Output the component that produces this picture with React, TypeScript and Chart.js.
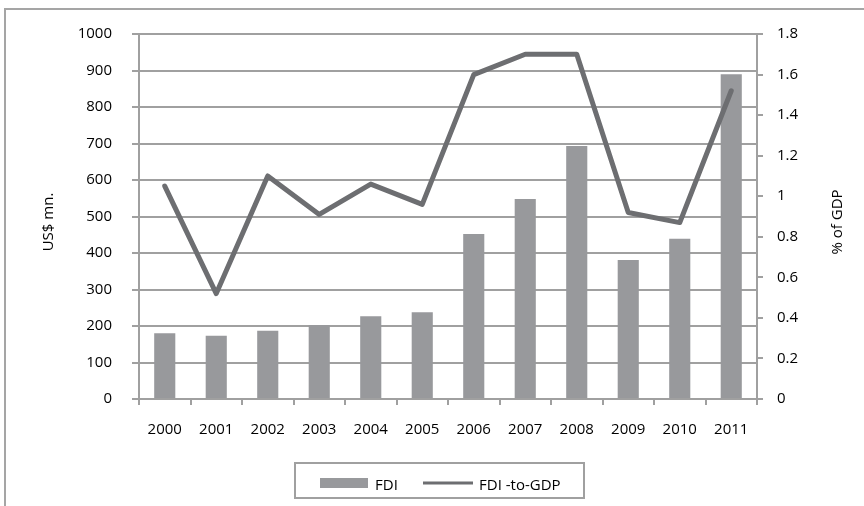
import React, { useEffect, useRef } from 'react';
import { Chart, registerables } from 'chart.js';

Chart.register(...registerables);

// ---- data ----
const years = ['2000', '2001', '2002', '2003', '2004', '2005', '2006', '2007', '2008', '2009', '2010', '2011'];
const fdiValues = [180, 173, 187, 203, 227, 238, 452, 548, 693, 381, 439, 890];
const fdiToGdpValues = [1.05, 0.52, 1.1, 0.91, 1.06, 0.96, 1.6, 1.7, 1.7, 0.92, 0.87, 1.52];
const seriesNames = ['FDI', 'FDI -to-GDP'];
const leftAxisTitle = 'US$ mn.';
const rightAxisTitle = '% of GDP';
const leftTicks = { min: 0, max: 1000, step: 100 };
const rightTicks = { min: 0, max: 1.8, step: 0.2 };

// ---- styles ----
const FONT = "'Open Sans', 'Noto Sans', sans-serif";
const TEXT = '#000000';
const GRID = '#a0a0a0';
const FRAME = '#a5a5a5';
const BAR = '#98999c';
const LINE = '#6d6e71';

const decorPlugin = {
  id: 'decor',
  beforeDraw(chart: any) {
    const ctx = chart.ctx;
    ctx.save();
    ctx.fillStyle = '#ffffff';
    ctx.fillRect(0, 0, chart.width, chart.height);
    ctx.strokeStyle = FRAME;
    ctx.lineWidth = 2;
    ctx.beginPath();
    ctx.moveTo(5, chart.height);
    ctx.lineTo(5, 9);
    ctx.lineTo(chart.width, 9);
    ctx.stroke();
    ctx.restore();
  },
  afterDraw(chart: any) {
    const ctx = chart.ctx;
    ctx.save();
    ctx.font = `15px ${FONT}`;
    ctx.fillStyle = TEXT;
    ctx.textAlign = 'center';
    ctx.textBaseline = 'alphabetic';
    // axis titles (both read bottom-to-top)
    const drawRot = (text: string, x: number, y: number) => {
      ctx.save();
      ctx.translate(x, y);
      ctx.rotate(-Math.PI / 2);
      ctx.fillText(text, 0, 0);
      ctx.restore();
    };
    drawRot(leftAxisTitle, 53, 222);
    drawRot(rightAxisTitle, 842, 222);

    // legend
    ctx.strokeStyle = GRID;
    ctx.lineWidth = 2;
    ctx.strokeRect(295, 463, 289, 35);
    ctx.fillStyle = BAR;
    ctx.fillRect(320, 478, 48, 10);
    ctx.strokeStyle = LINE;
    ctx.lineWidth = 3;
    ctx.beginPath();
    ctx.moveTo(423, 483);
    ctx.lineTo(473, 483);
    ctx.stroke();
    ctx.fillStyle = TEXT;
    ctx.textAlign = 'left';
    ctx.fillText(seriesNames[0], 375, 490);
    ctx.fillText(seriesNames[1], 479, 490);
    ctx.restore();
  },
};

export default function App() {
  const canvasRef = useRef<HTMLCanvasElement | null>(null);

  useEffect(() => {
    if (!canvasRef.current) return;
    Chart.defaults.font.family = FONT;
    Chart.defaults.font.size = 15;
    Chart.defaults.color = TEXT;
    const chart = new Chart(canvasRef.current, {
      type: 'bar',
      data: {
        labels: years,
        datasets: [
          {
            type: 'line',
            label: seriesNames[1],
            data: fdiToGdpValues,
            yAxisID: 'y1',
            borderColor: LINE,
            backgroundColor: LINE,
            borderWidth: 5,
            pointRadius: 0,
            tension: 0,
            borderCapStyle: 'round',
            borderJoinStyle: 'round',
            order: 1,
          } as any,
          {
            type: 'bar',
            label: seriesNames[0],
            data: fdiValues,
            yAxisID: 'y',
            backgroundColor: BAR,
            borderWidth: 0,
            barPercentage: 0.41,
            categoryPercentage: 1,
            order: 2,
          },
        ],
      },
      options: {
        animation: false,
        responsive: false,
        devicePixelRatio: 1,
        layout: { padding: { top: 34, left: 0, right: 0, bottom: 0 } },
        plugins: { legend: { display: false }, tooltip: { enabled: false } },
        scales: {
          x: {
            type: 'category',
            offset: true,
            grid: { offset: true, drawOnChartArea: false, drawTicks: true, tickLength: 6, color: GRID, lineWidth: 2 },
            border: { display: true, color: GRID, width: 2 },
            ticks: { padding: 16, color: TEXT, font: { size: 15, family: FONT }, maxRotation: 0, autoSkip: false },
            afterFit: (s: any) => { s.height = 107; },
          },
          y: {
            type: 'linear',
            position: 'left',
            min: leftTicks.min,
            max: leftTicks.max,
            ticks: {
              stepSize: leftTicks.step,
              padding: 20,
              color: TEXT,
              font: { size: 15, family: FONT },
              callback: (v: any) => String(Math.round(Number(v))),
            },
            grid: { color: GRID, lineWidth: 2, tickLength: 7, drawTicks: true },
            border: { display: true, color: GRID, width: 2 },
            afterFit: (s: any) => { s.width = 139; },
          },
          y1: {
            type: 'linear',
            position: 'right',
            min: rightTicks.min,
            max: rightTicks.max,
            ticks: {
              stepSize: rightTicks.step,
              padding: 14,
              color: TEXT,
              font: { size: 15, family: FONT },
              callback: (v: any) => String(Number(Number(v).toFixed(1))),
            },
            grid: { drawOnChartArea: false, tickLength: 6, color: GRID, lineWidth: 2, drawTicks: true },
            border: { display: true, color: GRID, width: 2 },
            afterFit: (s: any) => { s.width = 107; },
          },
        },
      } as any,
      plugins: [decorPlugin],
    });
    return () => chart.destroy();
  }, []);

  return (
    <div style={{ position: 'fixed', left: 0, top: 0, width: 864, height: 506 }}>
      <canvas ref={canvasRef} width={864} height={506} style={{ display: 'block', width: 864, height: 506 }} />
    </div>
  );
}
